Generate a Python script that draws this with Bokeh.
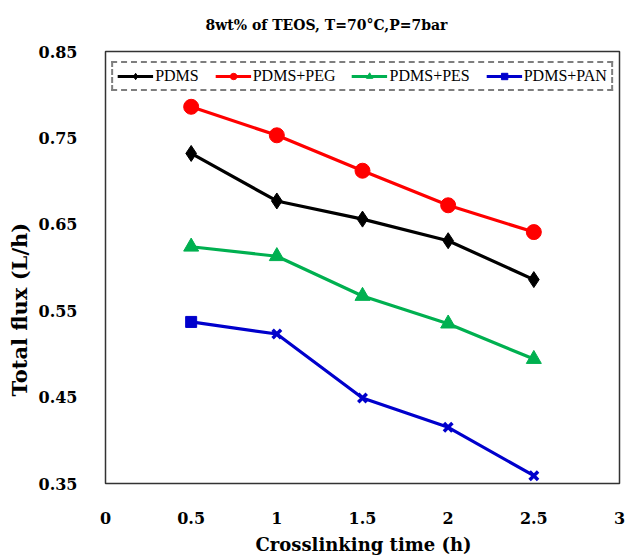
from bokeh.plotting import figure
from bokeh.models import Range1d, Legend, LegendItem, FixedTicker, Title
from bokeh.embed import file_html
from bokeh.resources import INLINE

times = [0.5, 1.0, 1.5, 2.0, 2.5]
pdms = [0.732, 0.677, 0.656, 0.631, 0.586]
pdms_peg = [0.786, 0.753, 0.712, 0.672, 0.641]
pdms_pes = [0.624, 0.613, 0.567, 0.535, 0.494]
pdms_pan = [0.537, 0.523, 0.449, 0.415, 0.359]
x_ticks = [0, 0.5, 1, 1.5, 2, 2.5, 3]
y_ticks = [0.35, 0.45, 0.55, 0.65, 0.75, 0.85]

SERIF = "DejaVu Serif"
LSERIF = "Liberation Serif"

p = figure(width=629, height=560, output_backend="svg", toolbar_location=None,
           x_range=Range1d(0, 3), y_range=Range1d(0.35, 0.85),
           min_border_left=104, min_border_right=10, min_border_top=51, min_border_bottom=76)
p.background_fill_color = "white"
p.border_fill_color = "white"
p.outline_line_color = "#333333"
p.outline_line_width = 1.5
p.xgrid.visible = False
p.ygrid.visible = False

for ax in (p.xaxis, p.yaxis):
    ax.axis_line_color = None
    ax.major_tick_line_color = None
    ax.minor_tick_line_color = None
    ax.major_label_text_font = SERIF
    ax.major_label_text_font_style = "bold"
    ax.major_label_text_font_size = "16px"
    ax.major_label_text_color = "black"
p.xaxis.ticker = FixedTicker(ticks=x_ticks)
p.yaxis.ticker = FixedTicker(ticks=y_ticks)
p.xaxis.major_label_overrides = {0: "0", 1: "1", 2: "2", 3: "3"}
p.xaxis.major_label_standoff = 22
p.yaxis.major_label_standoff = 22

r1l = p.line(times, pdms, line_color="black", line_width=3.2)
r1s = p.scatter(times, pdms, marker="diamond", size=16, color="black")
r2l = p.line(times, pdms_peg, line_color="#FF0000", line_width=3.2)
r2s = p.scatter(times, pdms_peg, marker="circle", size=15, color="#FF0000")
r3l = p.line(times, pdms_pes, line_color="#00B050", line_width=3.2)
r3s = p.scatter(times, pdms_pes, marker="triangle", size=15, color="#00B050")
r4l = p.line(times, pdms_pan, line_color="#0000CC", line_width=3.2)
r4s = p.scatter(times[:1], pdms_pan[:1], marker="square", size=11, color="#0000CC")
r4x = p.scatter(times[1:], pdms_pan[1:], marker="x", size=12, line_width=3.5, color="#0000CC")

legend = Legend(items=[
    LegendItem(label="PDMS", renderers=[r1l, r1s]),
    LegendItem(label="PDMS+PEG", renderers=[r2l, r2s]),
    LegendItem(label="PDMS+PES", renderers=[r3l, r3s]),
    LegendItem(label="PDMS+PAN", renderers=[r4l, r4s]),
], orientation="horizontal", location="top_center")
legend.margin = 10
legend.padding = 4
legend.spacing = 16
legend.glyph_width = 36
legend.glyph_height = 16
legend.label_standoff = 2
legend.label_text_font = LSERIF
legend.label_text_font_size = "16px"
legend.label_text_color = "black"
legend.border_line_color = "black"
legend.border_line_dash = "2 1"
legend.border_line_width = 2
legend.background_fill_alpha = 1
p.add_layout(legend)

p.add_layout(Title(text="8wt% of TEOS, T=70°C,P=7bar", text_font=SERIF, text_font_style="bold",
                   text_font_size="14px", text_color="black", align="left", offset=100,
                   vertical_align="top", standoff=33), "above")
p.add_layout(Title(text="Crosslinking time (h)", text_font=SERIF, text_font_style="bold",
                   text_font_size="18px", text_color="black", align="left", offset=150,
                   standoff=11), "below")
p.add_layout(Title(text="Total flux (L/h)", text_font=SERIF, text_font_style="bold",
                   text_font_size="21px", text_color="black", align="left", offset=87,
                   standoff=8), "left")

open("out.html", "w").write(file_html(p, INLINE))
